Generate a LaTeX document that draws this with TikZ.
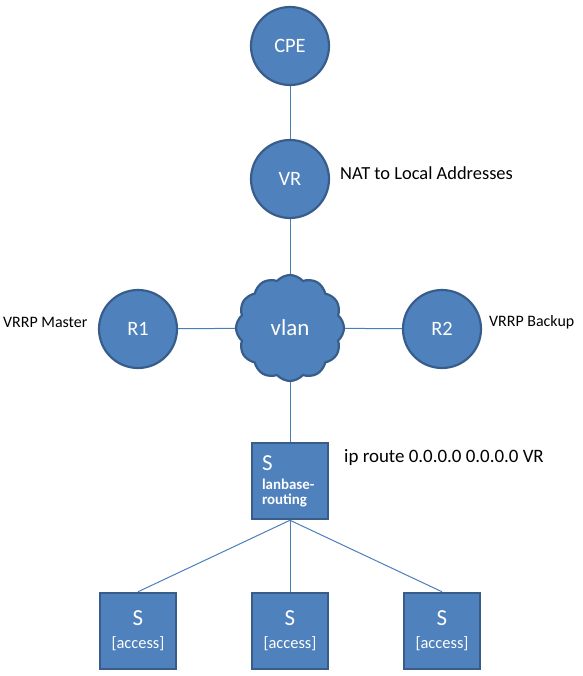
\documentclass[tikz,border=0pt]{standalone}
\usepackage{fontspec}
\setmainfont{Carlito}
\usetikzlibrary{shapes.symbols}
\definecolor{nodeblue}{HTML}{4F81BD}
\definecolor{edgeblue}{HTML}{385D8A}
\definecolor{linkblue}{HTML}{4A7EBB}

\begin{document}
\begin{tikzpicture}[
    x = 1bp, y = -1bp,
    router/.style = {circle, draw=edgeblue, fill=nodeblue, line width=2.2bp,
      minimum size=78bp, inner sep=0pt, text=white,
      font=\fontsize{20.5}{24}\selectfont},
    switchbox/.style = {rectangle, draw=edgeblue, fill=nodeblue,
      line width=2.5bp, minimum size=76bp, inner sep=0pt, text=white},
    lan/.style = {cloud, cloud puffs=12, cloud puff arc=100, aspect=1,
      draw=edgeblue, fill=nodeblue, line width=2.2bp, minimum width=108bp,
      minimum height=106bp, inner sep=0pt, text=white,
      font=\fontsize{23}{26}\selectfont},
    link/.style = {draw=linkblue, line width=1bp},
    note/.style = {anchor=west, inner sep=0pt, text=black}
    ]
    \useasboundingbox (0,0) rectangle (583,676);
    \node[router] (cpe) at (290,46) {CPE};
    \node[router] (vr) at (290,179) {VR};
    \node[lan] (vlan) at (290,328) {vlan};
    \node[router] (r1) at (138,329) {R1};
    \node[router] (r2) at (442,329) {R2};
    \node[switchbox, align=left, text width=56bp,
      font=\fontsize{15}{15}\selectfont\bfseries] (core) at (290,481)
      {{\fontsize{23}{24}\selectfont\mdseries S}\\[4bp] lanbase-\\ routing};
    \foreach \name/\x in {acc1/138, acc2/290, acc3/442}
      \node[switchbox, align=center, font=\fontsize{16.5}{23}\selectfont]
        (\name) at (\x,631) {{\fontsize{23}{24}\selectfont S}\\ {[access]}};
    \node[note, font=\fontsize{18.5}{22}\selectfont] (natlbl) at (340,173)
      {NAT to Local Addresses};
    \node[note, font=\fontsize{16}{19}\selectfont] (masterlbl) at (3,322)
      {VRRP Master};
    \node[note, font=\fontsize{16}{19}\selectfont] (backuplbl) at (489,322)
      {VRRP Backup};
    \node[note, font=\fontsize{19}{22}\selectfont] (routelbl) at (344,458)
      {ip route 0.0.0.0 0.0.0.0 VR};
    \draw[link] (cpe) -- (vr);
    \draw[link] (vr) -- (vlan);
    \draw[link] (vlan) -- (core);
    \draw[link] (r1) -- (vlan);
    \draw[link] (vlan) -- (r2);
    \foreach \name in {acc1, acc2, acc3}
      \draw[link] (core.south) -- (\name.north);
\end{tikzpicture}
\end{document}
